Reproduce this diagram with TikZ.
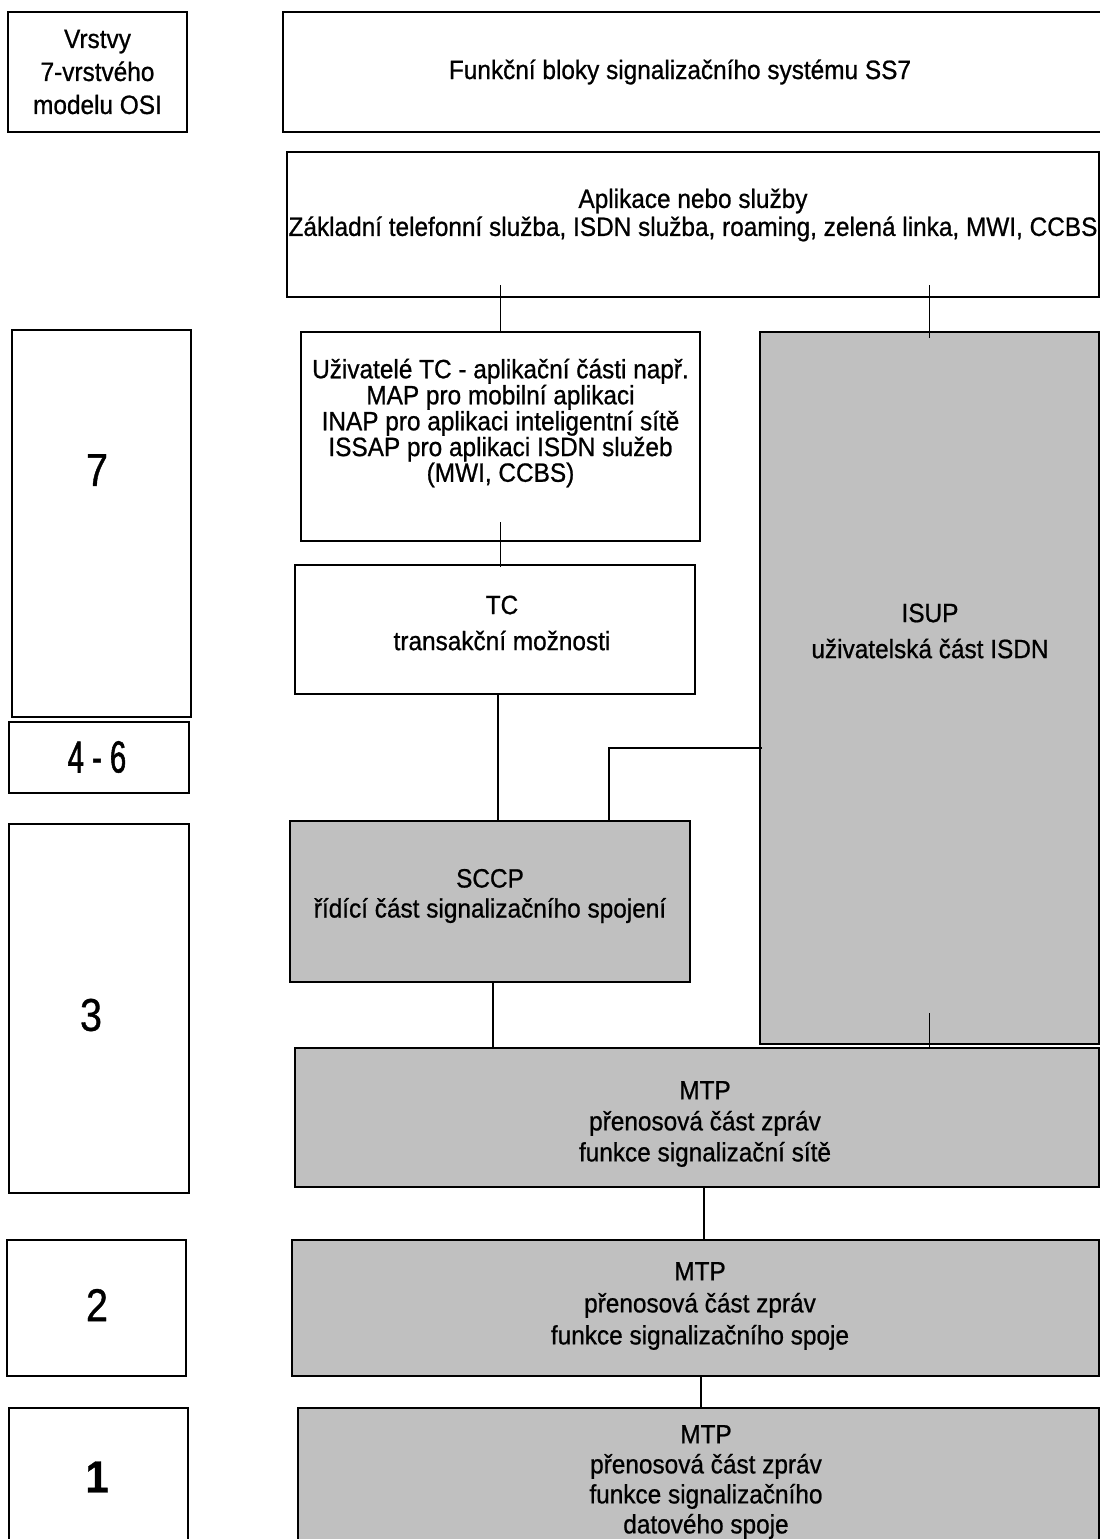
\documentclass[tikz,border=0pt]{standalone}
\usepackage{fontspec}
\setmainfont{Liberation Sans}[FakeStretch=0.92, FakeBold=0.8]
\newfontfamily\narrowA{Liberation Sans}[FakeStretch=0.86, FakeBold=0.8]
\newfontfamily\narrowB{Liberation Sans}[FakeStretch=0.65, FakeBold=1.2]
\definecolor{boxgray}{RGB}{192,192,192}
\tikzset{
  box/.style={draw=black, line width=2pt, inner sep=0pt, outer sep=0pt, fill=white},
  graybox/.style={box, fill=boxgray},
  txt/.style={align=center, inner sep=0pt, outer sep=0pt},
  conn/.style={line width=1.6pt},
}
\newcommand{\fsz}[1]{\fontsize{26.5}{#1}\selectfont}
\begin{document}
\begin{tikzpicture}[x=1pt,y=-1pt]
\useasboundingbox (0,0) rectangle (1100,1539);
\clip (0,0) rectangle (1100,1539);
% left column
\node[box, minimum width=179pt, minimum height=120pt] (osi) at (97.5,72) {};
\node[txt, font=\fsz{33}] (osit) at (97.5,72) {Vrstvy\\7-vrstvého\\modelu OSI};
\node[box, minimum width=179pt, minimum height=387pt] (l7) at (101.5,523.5) {};
\node[txt, font=\narrowA\fontsize{46}{50}\selectfont] (l7t) at (97,470) {7};
\node[box, minimum width=180pt, minimum height=71pt] (l46) at (99,757.5) {};
\node[txt, font=\narrowB\fontsize{45}{50}\selectfont] (l46t) at (97,757) {4 - 6};
\node[box, minimum width=180pt, minimum height=369pt] (l3) at (99,1008.5) {};
\node[txt, font=\narrowA\fontsize{46}{50}\selectfont] (l3t) at (91,1015) {3};
\node[box, minimum width=179pt, minimum height=136pt] (l2) at (96.5,1308) {};
\node[txt, font=\narrowA\fontsize{46}{50}\selectfont] (l2t) at (97,1305) {2};
\node[box, minimum width=179pt, minimum height=162pt] (l1) at (98.5,1489) {};
\node[txt, font=\bfseries\fontsize{45}{50}\selectfont] (l1t) at (97,1477) {1};
% right column
\node[box, minimum width=832pt, minimum height=120pt] (hdr) at (699,72) {};
\node[txt, font=\fsz{28}] (hdrt) at (680,72) {Funkční bloky signalizačního systému SS7};
\node[box, minimum width=812pt, minimum height=145pt] (app) at (693,224.5) {};
\node[txt, font=\fsz{28}] (appt) at (693,215) {Aplikace nebo služby\\Základní telefonní služba, ISDN služba, roaming, zelená linka, MWI, CCBS};
\node[box, minimum width=399pt, minimum height=209pt] (tcu) at (500.5,436.5) {};
\node[txt, font=\fsz{24.5}] (tcut) at (500.5,423) {Uživatelé TC - aplikační části např.\\MAP pro mobilní aplikaci\\INAP pro aplikaci inteligentní sítě\\ISSAP pro aplikaci ISDN služeb\\(MWI, CCBS)};
\node[box, minimum width=400pt, minimum height=129pt] (tc) at (495,629.5) {};
\node[txt, font=\fsz{36}] (tct) at (502,623) {TC\\transakční možnosti};
\node[graybox, minimum width=339pt, minimum height=712pt] (isup) at (929.5,688) {};
\node[txt, font=\fsz{36}] (isupt) at (930,631) {ISUP\\uživatelská část ISDN};
\node[graybox, minimum width=400pt, minimum height=161pt] (sccp) at (490,901.5) {};
\node[txt, font=\fsz{30}] (sccpt) at (490,896) {SCCP\\řídící část signalizačního spojení};
\node[graybox, minimum width=804pt, minimum height=139pt] (mtp3) at (697,1117.5) {};
\node[txt, font=\fsz{31}] (mtp3t) at (705,1124) {MTP\\přenosová část zpráv\\funkce signalizační sítě};
\node[graybox, minimum width=807pt, minimum height=136pt] (mtp2) at (695.5,1308) {};
\node[txt, font=\fsz{32}] (mtp2t) at (700,1306) {MTP\\přenosová část zpráv\\funkce signalizačního spoje};
\node[graybox, minimum width=801pt, minimum height=162pt] (mtp1) at (698.5,1489) {};
\node[txt, font=\fsz{30}] (mtp1t) at (706,1482) {MTP\\přenosová část zpráv\\funkce signalizačního\\datového spoje};
% connectors
\draw[conn] ([yshift=12pt]app.south -| tcu.north) -- (tcu.north);
\draw[conn] ([yshift=12pt]app.south -| isup.north) -- ([yshift=-6pt]isup.north);
\draw[conn] ([yshift=19pt]tcu.south) -- ([yshift=-2pt]tcu.south |- tc.north);
\draw[conn] ([xshift=3pt]tc.south) -- ([xshift=3pt]tc.south |- sccp.north);
\draw[conn] ([xshift=2pt,yshift=-60pt]isup.west) -| ([xshift=119pt]sccp.north);
\draw[conn] ([xshift=3pt]sccp.south) -- ([xshift=3pt]sccp.south |- mtp3.north);
\draw[conn] ([yshift=31pt]isup.south) -- (isup.south |- mtp3.north);
\draw[conn] ([xshift=7pt]mtp3.south) -- ([xshift=7pt]mtp3.south |- mtp2.north);
\draw[conn] ([xshift=5.5pt]mtp2.south) -- ([xshift=5.5pt]mtp2.south |- mtp1.north);
\end{tikzpicture}
\end{document}
